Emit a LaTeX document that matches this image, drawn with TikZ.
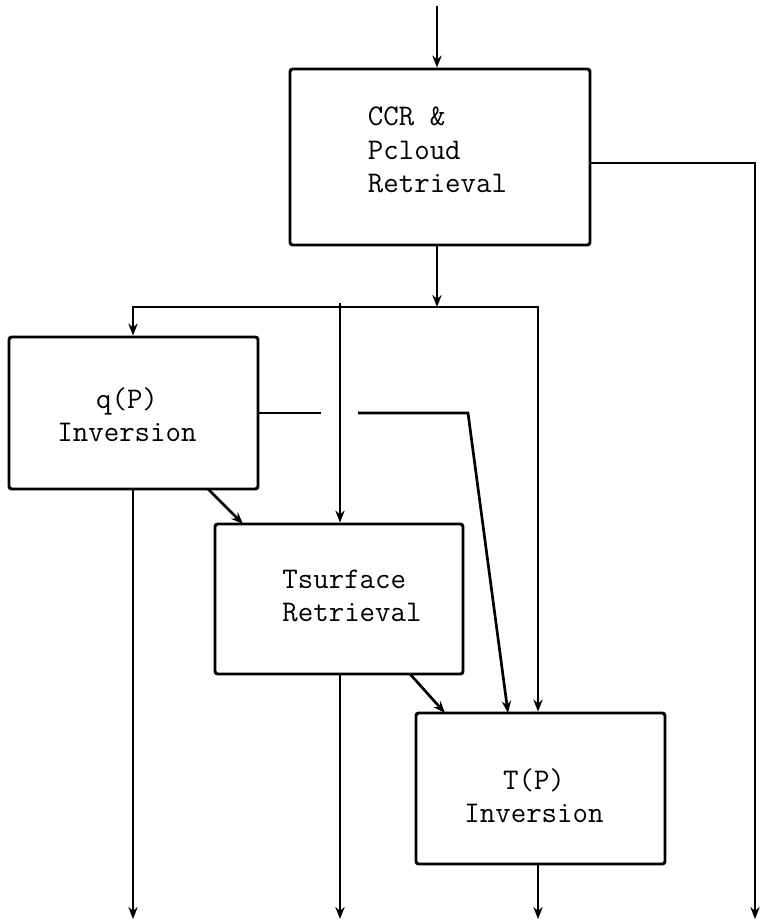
\documentclass[tikz,border=0pt]{standalone}
\usepackage{fontspec}
\usetikzlibrary{arrows.meta}
\begin{document}
\begin{tikzpicture}[x=0.75pt,y=-0.75pt,
  box/.style={draw, line width=2.2pt, rounded corners=2pt, inner sep=0pt},
  lbl/.style={font=\ttfamily\addfontfeatures{FakeBold=1.2}\fontsize{22.5}{25}\selectfont, align=left, inner sep=0pt},
  lblc/.style={lbl, align=center},
  wire/.style={line width=2pt},
  flow/.style={wire, -{Stealth[length=9pt,width=7pt]}}]
\useasboundingbox[fill=white] (0,0) rectangle (760,924);
% boxes
\node[box, minimum width=225pt, minimum height=132pt] (ccr) at (440,157) {};
\node[box, minimum width=186.75pt, minimum height=114pt] (qp) at (133.5,413) {};
\node[box, minimum width=186pt, minimum height=112.5pt] (ts) at (339,599) {};
\node[box, minimum width=186.75pt, minimum height=113.25pt] (tp) at (540.5,788.5) {};
% texts
\node[lbl] (ccrT) at (437.5,150) {CCR \&\\Pcloud\\Retrieval};
\node[lblc] (qpT) at (127,415) {q(P)\\Inversion};
\node[lbl] (tsT) at (352,596) {Tsurface\\Retrieval};
\node[lblc] (tpT) at (534,796) {T(P)\\Inversion};
% coordinates
\coordinate (top) at (437,6);
\coordinate (bus) at (437,307);
\coordinate (busL) at (133,307);
\coordinate (busM) at (340,303);
\coordinate (busR) at (538,307);
\coordinate (rt) at (755,163);
\coordinate (o1) at (133,919);
\coordinate (o2) at (340,919);
\coordinate (o3) at (538,919);
\coordinate (o4) at (755,919);
\coordinate (qd) at (208,489);
\coordinate (tsin) at (243,524);
\coordinate (tsd) at (410,674);
\coordinate (tpin) at (445,713);
\coordinate (g1) at (321,413);
\coordinate (g2) at (358,413);
\coordinate (g3) at (468,413);
\coordinate (g4) at (508,713);
% connectors
\draw[flow] (top) -- (top |- ccr.north);
\draw[flow] (bus |- ccr.south) -- (bus);
\draw[flow] (bus) -- (busR) -- (busR |- tp.north);
\draw[flow] (bus) -- (busL) -- (busL |- qp.north);
\draw[flow] (busM) -- (busM |- ts.north);
\draw[flow] (ccr.east |- rt) -- (rt) -- (o4);
\draw[flow] (o1 |- qp.south) -- (o1);
\draw[flow] (qd) -- (tsin);
\draw[flow] (o2 |- ts.south) -- (o2);
\draw[flow] (tsd) -- (tpin);
\draw[wire] (qp.east) -- (g1);
\draw[flow] (g2) -- (g3) -- (g4);
\draw[flow] (o3 |- tp.south) -- (o3);
\end{tikzpicture}
\end{document}
